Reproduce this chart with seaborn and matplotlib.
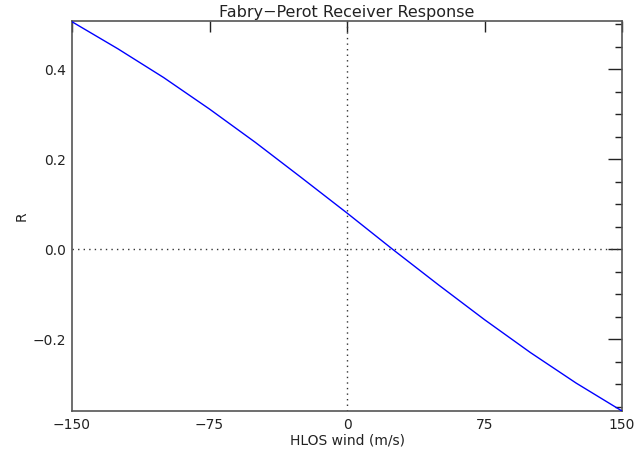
import numpy as np
import pandas as pd
import matplotlib
matplotlib.use("Agg")
import matplotlib.pyplot as plt
from matplotlib.ticker import MultipleLocator, FixedLocator
import seaborn as sns

# Receiver response R versus horizontal line-of-sight wind
wind = [-150, -125, -100, -75, -50, -25, 0, 25, 50, 75, 100, 125, 150]
response = [0.505, 0.445, 0.381, 0.311, 0.237, 0.159, 0.080, -0.001,
            -0.080, -0.157, -0.230, -0.298, -0.360]
x_ticks = [-150, -75, 0, 75, 150]
y_ticks = [-0.2, 0.0, 0.2, 0.4]

df = pd.DataFrame({"wind": wind, "R": response})

sns.set_style("white")
plt.rcParams["font.family"] = ["DejaVu Sans"]
plt.rcParams["axes.unicode_minus"] = True

fig = plt.figure(figsize=(6.35, 4.54), dpi=100)
ax = fig.add_axes([72 / 635, 1 - 411 / 454, 550 / 635, 390 / 454])

sns.lineplot(data=df, x="wind", y="R", ax=ax, color="#0000ff", linewidth=1.0,
             zorder=3)

ax.axhline(0, color="#333333", linestyle=(0, (1, 3)), linewidth=1.0, zorder=2)
ax.axvline(0, color="#333333", linestyle=(0, (1, 3)), linewidth=1.0, zorder=2)

ax.set_xlim(-150, 150)
ax.set_ylim(-0.36, 0.5067)

ax.xaxis.set_major_locator(FixedLocator(x_ticks))
ax.set_xticklabels(["\u2212150", "\u221275", "0", "75", "150"])
ax.yaxis.set_major_locator(FixedLocator(y_ticks))
ax.set_yticklabels(["\u22120.2", "0.0", "0.2", "0.4"])
ax.yaxis.set_minor_locator(MultipleLocator(0.05))

ax.tick_params(axis="both", which="both", direction="in", colors="#222222",
               labelsize=10, top=True, right=True, labeltop=False,
               labelright=False)
ax.tick_params(axis="x", which="major", length=8, width=1, pad=5)
ax.tick_params(axis="y", which="major", length=10, width=1, pad=4)
ax.tick_params(axis="y", which="minor", length=5, width=1)

for sp in ax.spines.values():
    sp.set_color("#555555")
    sp.set_linewidth(1.2)
    sp.set_visible(True)

ax.set_xlabel("HLOS wind (m/s)", fontsize=10, color="#222222", labelpad=1)
ax.set_ylabel("R", fontsize=10, color="#222222", labelpad=3)
ax.set_title("Fabry\u2212Perot Receiver Response", fontsize=11.5,
             color="#222222", pad=3)

fig.savefig("out.png", dpi=100, facecolor="white")
